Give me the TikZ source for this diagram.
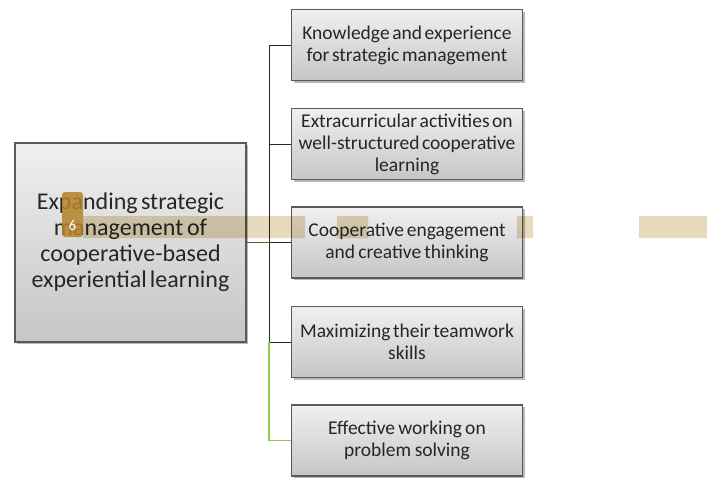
\documentclass[tikz,border=0pt]{standalone}
\usepackage{fontspec}
\setmainfont{Carlito}
\usetikzlibrary{shadows}
\definecolor{boxline}{RGB}{90,90,90}
\definecolor{darkleaf}{RGB}{79,98,40}
\definecolor{leaf}{RGB}{146,200,80}
\definecolor{tanbar}{RGB}{232,218,188}
\definecolor{tabgold}{RGB}{180,130,40}
\newcommand{\tightsp}{\spaceskip=.12em plus .05em minus .03em\relax}
\begin{document}
\begin{tikzpicture}[x=1pt,y=-1pt,
  box/.style={draw=boxline,line width=1.1pt,top color=gray!12,bottom color=gray!45,
    drop shadow={shadow xshift=2pt,shadow yshift=-2pt,fill=gray!70,opacity=.8},
    align=center,inner sep=1pt,text=black!85,execute at begin node=\tightsp},
  mainbox/.style={box,minimum width=231pt,minimum height=199pt,text width=229pt,
    font=\fontsize{24}{26}\selectfont},
  itembox/.style={box,minimum width=231pt,minimum height=71pt,text width=229pt,
    font=\fontsize{19.5}{22}\selectfont},
  conn/.style={line width=.9pt,black!85}]
\useasboundingbox (0,0) rectangle (707,477);
% hop trai
\node[mainbox] (goal) at (130.5,242.5) {Expanding strategic\\management of\\cooperative-based\\experiential learning};
% cac hop ben phai
\node[itembox] (k1) at (407,45) {Knowledge and experience\\for strategic management};
\node[itembox] (k2) at (407,144) {Extracurricular activities on\\well-structured cooperative\\learning};
\node[itembox] (k3) at (407,242.5) {Cooperative engagement\\and creative thinking};
\node[itembox] (k4) at (407,342) {Maximizing their teamwork\\skills};
\node[itembox] (k5) at (407,440.5) {Effective working on\\problem solving};
% duong noi
\coordinate (fork) at (269,242.5);
\draw[conn] (k1.west) -| (fork);
\draw[conn] (k2.west) -| (fork);
\draw[conn] (k3.west) -- (fork);
\draw[conn] (k4.west) -| (fork);
\draw[conn,leaf,line width=1.3pt] (k5.west) -| ([yshift=-99.5pt]fork);
\draw[conn,darkleaf,line width=1.3pt] (goal.east) -- (fork);
% dai mau va so trang
\fill[tanbar,blend mode=multiply] (83,216) rectangle (305,238) (337,216) rectangle (368,238)
  (517,216) rectangle (533,238) (639,216) rectangle (707,238);
\node[fill=tabgold,opacity=.85,rounded corners=3pt,minimum width=21pt,minimum height=45pt,
  inner sep=0pt] (tab) at (72.5,214.5) {};
\node[text=white,font=\fontsize{15}{15}\selectfont] (pg) at (72.5,225) {6};
\end{tikzpicture}
\end{document}
